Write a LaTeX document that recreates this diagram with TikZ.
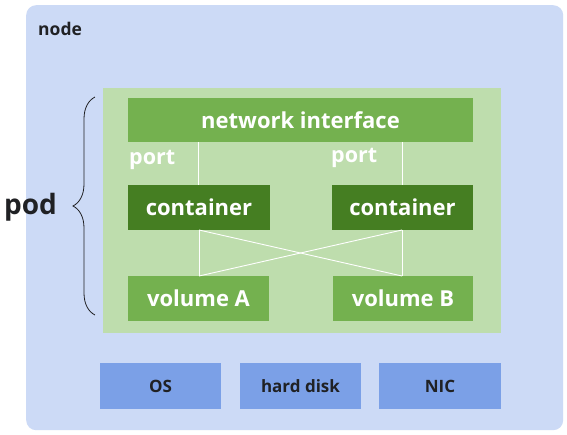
\documentclass[tikz,border=0pt]{standalone}
\usepackage{fontspec}
\setmainfont{Open Sans}
\usetikzlibrary{decorations.pathreplacing}
\definecolor{nodebg}{HTML}{CCDAF6}
\definecolor{podbg}{HTML}{BEDDAD}
\definecolor{midgreen}{HTML}{74B14F}
\definecolor{darkgreen}{HTML}{457E22}
\definecolor{hwblue}{HTML}{7BA0E7}
\definecolor{ink}{HTML}{202124}
\tikzset{
  box/.style={anchor=north west, inner sep=0pt, outer sep=0pt, text=white,
    font=\fontsize{22}{26}\selectfont\bfseries},
  greenbox/.style={box, fill=midgreen},
  contbox/.style={box, fill=darkgreen},
  hwbox/.style={box, fill=hwblue, text=ink, font=\fontsize{17}{20}\selectfont\bfseries},
  wire/.style={draw=white, line width=0.9pt},
  lbl/.style={inner sep=0pt, font=\fontsize{21.5}{25}\selectfont\bfseries, text=white},
}
\begin{document}
\begin{tikzpicture}[x=1pt,y=-1pt]
\useasboundingbox (0,0) rectangle (567,434);
\fill[white] (0,0) rectangle (567,434);
% outer node
\node[anchor=north west, inner sep=0pt, fill=nodebg, rounded corners=10pt,
  minimum width=537pt, minimum height=425pt] (nodebox) at (26,5) {};
\node[anchor=west, inner sep=0pt, text=ink, font=\fontsize{17.5}{20}\selectfont\bfseries] (nodelbl) at (38,29) {node};
% pod
\node[anchor=north west, inner sep=0pt, fill=podbg, minimum width=398pt, minimum height=245pt] (pod) at (103,88) {};
% network interface
\node[greenbox, minimum width=345pt, minimum height=44pt] (net) at (128,98) {network interface};
% containers
\node[contbox, minimum width=142pt, minimum height=45pt] (c1) at (128,185) {container};
\node[contbox, minimum width=141pt, minimum height=45pt] (c2) at (332,185) {container};
% volumes
\node[greenbox, minimum width=141pt, minimum height=45pt] (v1) at (128,276) {volume A};
\node[greenbox, minimum width=140pt, minimum height=45pt] (v2) at (333,276) {volume B};
% port labels
\node[lbl, anchor=west] (p1) at (129,160) {port};
\node[lbl, anchor=west] (p2) at (331,158) {port};
% wires
\draw[wire] (198,142) -- (198,185);
\draw[wire] (402,142) -- (402,185);
\draw[wire] (199,230) -- (199,276);
\draw[wire] (402,230) -- (402,276);
\draw[wire] (199,230) -- (402,276);
\draw[wire] (402,230) -- (199,276);
% hardware
\node[hwbox, minimum width=121pt, minimum height=46pt] (os) at (100,363) {OS};
\node[hwbox, minimum width=121pt, minimum height=46pt] (hd) at (240,363) {hard disk};
\node[hwbox, minimum width=122pt, minimum height=46pt] (nic) at (379,363) {NIC};
% brace and pod label
\draw[ink, line width=0.8pt, decorate, decoration={brace, amplitude=22pt}] (95,315) -- (95,97);
\node[anchor=east, inner sep=0pt, text=ink, font=\fontsize{28}{32}\selectfont\bfseries] (podlbl) at (57,207) {pod};
\end{tikzpicture}
\end{document}
